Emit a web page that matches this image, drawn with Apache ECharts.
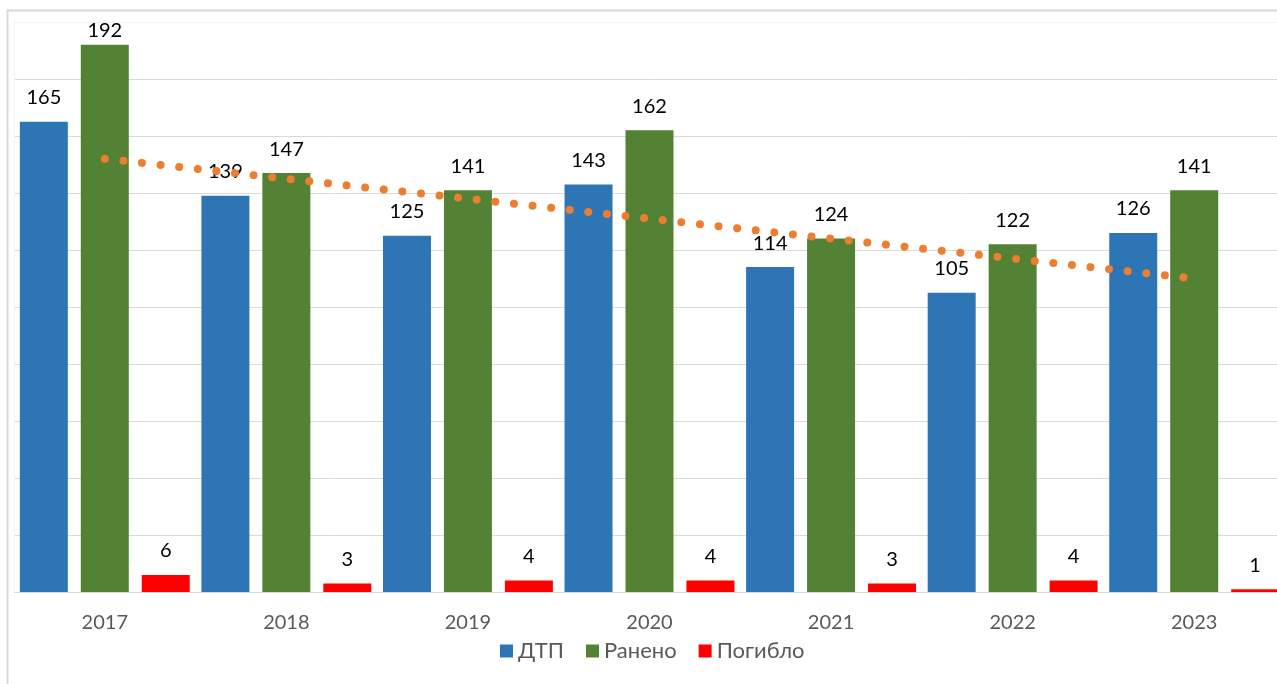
<!DOCTYPE html>
<html>
<head>
<meta charset="utf-8">
<script src="https://cdn.jsdelivr.net/npm/echarts@6/dist/echarts.min.js"></script>
<style>
    html, body { margin: 0; padding: 0; background: #fff; overflow: hidden; }
    /* the chart runs a little past the right edge of the window, like the original */
    #chart { width: 1285px; height: 684px; }
</style>
</head>
<body>
<div id="chart"></div>
<script>
var years = ['2017', '2018', '2019', '2020', '2021', '2022', '2023'];
var dtp = [165, 139, 125, 143, 114, 105, 126];
var raneno = [192, 147, 141, 162, 124, 122, 141];
var pogiblo = [6, 3, 4, 4, 3, 4, 1];
// linear trend of ДТП at the first and last year
var trendEnds = [['2017', 152], ['2023', 110]];

(function(){
    var font = 'Lato, "Noto Sans", sans-serif';

    var labelOpt = {
        show: true,
        position: 'top',
        distance: 14,
        fontSize: 20,
        fontFamily: font,
        color: '#000'
    };

    // the tallest label sits closer to its bar so it stays under the border
    function withLabels(list){
        return list.map(function(v){
            return v > 185 ? { value: v, label: { distance: 4 } } : v;
        });
    }

    function barSeries(name, list, color){
        return {
            name: name,
            type: 'bar',
            barWidth: 48,
            barGap: '27%',
            itemStyle: { color: color },
            label: labelOpt,
            data: withLabels(list),
            z: 2
        };
    }

    var gridColors = [];
    for (var i = 0; i < 10; i++) gridColors.push('#D9D9D9');
    gridColors.push('#EEF4FB');

    var option = {
        animation: false,
        textStyle: { fontFamily: font },
        grid: { left: 14, right: 0, top: 22, bottom: 92 },
        legend: {
            data: ['ДТП', 'Ранено', 'Погибло'],
            top: 640,
            left: 500,
            padding: 0,
            icon: 'rect',
            itemWidth: 13,
            itemHeight: 13,
            itemGap: 22,
            textStyle: { fontSize: 22, color: '#595959', fontFamily: font }
        },
        xAxis: {
            type: 'category',
            data: years,
            axisTick: { show: false },
            axisLine: { lineStyle: { color: '#D9D9D9', width: 1 } },
            axisLabel: { fontSize: 20, color: '#595959', margin: 21, fontFamily: font }
        },
        yAxis: {
            type: 'value',
            min: 0,
            max: 200,
            interval: 20,
            axisLabel: { show: false },
            axisLine: { show: true, lineStyle: { color: '#EEF4FB' } },
            splitLine: { lineStyle: { color: gridColors, width: 1 } }
        },
        graphic: [{
            type: 'rect',
            shape: { x: 7.5, y: 10.5, width: 1300, height: 700 },
            style: { fill: null, stroke: '#D9D9D9', lineWidth: 2 },
            silent: true
        }],
        series: [
            barSeries('ДТП', dtp, '#2E75B6'),
            barSeries('Ранено', raneno, '#548235'),
            barSeries('Погибло', pogiblo, '#FF0000'),
            {
                name: 'trend',
                type: 'line',
                data: trendEnds,
                symbol: 'none',
                lineStyle: {
                    color: '#ED7D31',
                    width: 8,
                    type: [0.01, 18.7],
                    cap: 'round'
                },
                z: 3
            }
        ]
    };

    var chart = echarts.init(document.getElementById('chart'));
    chart.setOption(option);
})();
</script>
</body>
</html>
